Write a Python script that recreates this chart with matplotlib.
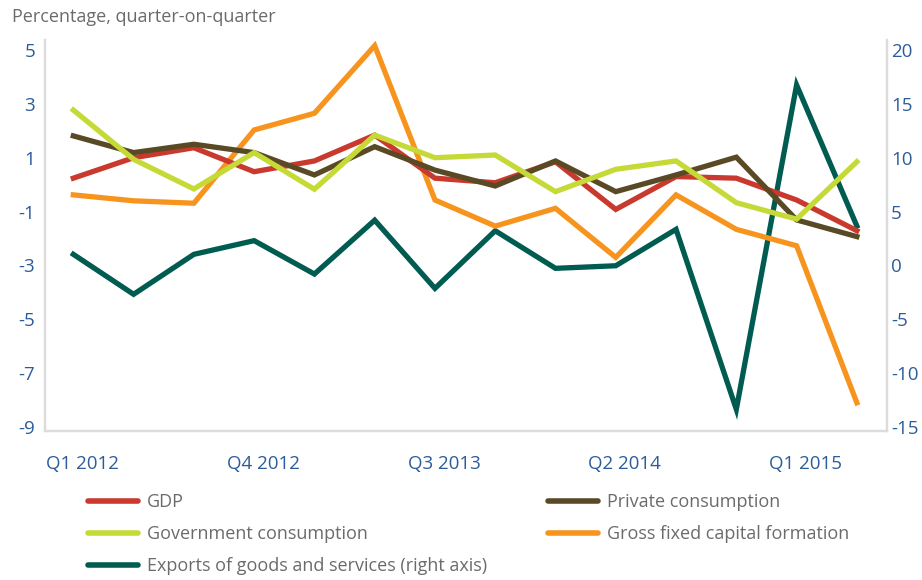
import matplotlib
matplotlib.use("Agg")
import matplotlib.pyplot as plt
import matplotlib.transforms as mtransforms
from matplotlib.lines import Line2D

plt.rcParams['font.family'] = ['Open Sans', 'DejaVu Sans']

quarters = ["Q1 2012", "Q2 2012", "Q3 2012", "Q4 2012", "Q1 2013", "Q2 2013", "Q3 2013",
            "Q4 2013", "Q1 2014", "Q2 2014", "Q3 2014", "Q4 2014", "Q1 2015", "Q2 2015"]
gdp = [0.24, 1.0, 1.37, 0.48, 0.88, 1.84, 0.24, 0.07, 0.85, -0.92, 0.3, 0.24, -0.57, -1.71]
private_cons = [1.81, 1.19, 1.5, 1.19, 0.36, 1.41, 0.54, -0.05, 0.88, -0.26, 0.36, 1.02, -1.31, -1.93]
gov_cons = [2.77, 0.94, -0.16, 1.19, -0.17, 1.84, 1.0, 1.1, -0.26, 0.57, 0.88, -0.67, -1.28, 0.85]
gfcf = [-0.38, -0.6, -0.69, 2.03, 2.65, 5.16, -0.57, -1.54, -0.88, -2.7, -0.38, -1.66, -2.27, -8.1]
exports = [1.03, -2.68, 1.03, 2.3, -0.8, 4.2, -2.13, 3.22, -0.27, -0.03, 3.35, -13.36, 16.75, 3.66]

left_ticks = [5, 3, 1, -1, -3, -5, -7, -9]
right_ticks = [20, 15, 10, 5, 0, -5, -10, -15]
xtick_labels = ["Q1 2012", "Q4 2012", "Q3 2013", "Q2 2014", "Q1 2015"]

c_gdp = "#C9392E"
c_priv = "#594A25"
c_gov = "#C5DA36"
c_gfcf = "#F7941E"
c_exp = "#005B50"
tick_col = "#2C5C9A"
text_col = "#6B6B6B"
spine_col = "#DCDCDC"

fig = plt.figure(figsize=(9.22, 5.8), dpi=100)
ax = fig.add_axes([45/922, 1-431/580, (887-45)/922, (431-40)/580])
ax2 = ax.twinx()

x = list(range(len(quarters)))
lw = 3.8
ax.plot(x, gdp, color=c_gdp, lw=lw, zorder=3, solid_joinstyle='miter')
ax.plot(x, private_cons, color=c_priv, lw=lw, zorder=4, solid_joinstyle='miter')
ax.plot(x, gov_cons, color=c_gov, lw=lw, zorder=5, solid_joinstyle='miter')
ax.plot(x, gfcf, color=c_gfcf, lw=lw, zorder=2, solid_joinstyle='miter')
ax2.plot(x, exports, color=c_exp, lw=lw, zorder=1, solid_joinstyle='miter')
ax.set_zorder(ax2.get_zorder() + 1)
ax.patch.set_visible(False)

lo, hi = -9 - 4/26.93, 5 + 10/26.93
ax.set_ylim(lo, hi)
ax2.set_ylim((lo + 9) * 2.5 - 15, (hi + 9) * 2.5 - 15)
ax.set_xlim(-0.47, 13.5)

ax.set_yticks(left_ticks)
ax.set_yticklabels([str(t) for t in left_ticks])
ax2.set_yticks(right_ticks)
ax2.set_yticklabels([str(t) for t in right_ticks])
ax.set_xticks([quarters.index(q) for q in xtick_labels])
ax.set_xticklabels(xtick_labels)

for a in (ax, ax2):
    for s in a.spines.values():
        s.set_color(spine_col)
        s.set_linewidth(1.6)
    a.spines['top'].set_visible(False)
    a.tick_params(length=0, labelsize=13.5, labelcolor=tick_col)
ax.tick_params(axis='y', pad=7)
ax2.tick_params(axis='y', pad=3)
ax.tick_params(axis='x', pad=17)

offset = mtransforms.ScaledTranslation(0.09, 0, fig.dpi_scale_trans)
for lab in ax.get_xticklabels():
    lab.set_transform(lab.get_transform() + offset)

fig.text(12/922, 1-17/580, "Percentage, quarter-on-quarter", color=text_col,
         fontsize=13, va='center', ha='left')

handles = [Line2D([], [], color=c_gdp, lw=4),
           Line2D([], [], color=c_gov, lw=4),
           Line2D([], [], color=c_exp, lw=4),
           Line2D([], [], color=c_priv, lw=4),
           Line2D([], [], color=c_gfcf, lw=4)]
labels = ["GDP", "Government consumption", "Exports of goods and services (right axis)",
          "Private consumption", "Gross fixed capital formation"]
for h in handles:
    h.set_solid_capstyle('round')
leg = fig.legend(handles, labels, ncol=2, loc='upper left',
                 bbox_to_anchor=(88/922, 1-493/580), frameon=False,
                 fontsize=13, labelcolor=text_col, handlelength=2.75,
                 handletextpad=0.5, columnspacing=3.4, labelspacing=0.78,
                 borderaxespad=0, borderpad=0)

fig.savefig("out.png", dpi=100)
